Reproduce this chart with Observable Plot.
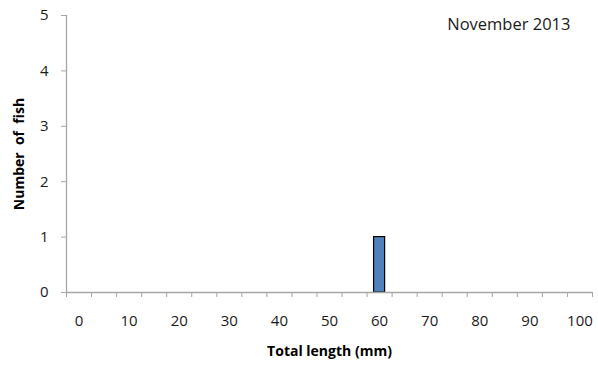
<!DOCTYPE html>
<html>
<head>
<meta charset="utf-8">
<script src="https://cdn.jsdelivr.net/npm/d3@7"></script>
<script src="https://cdn.jsdelivr.net/npm/@observablehq/plot@0.6"></script>
<style>
  body { margin: 0; background: #fff; }
  #chart svg { font-family: "Open Sans", sans-serif; }
</style>
</head>
<body>
<div id="chart"></div>
<script>
// Data
const lengthBins = [0,5,10,15,20,25,30,35,40,45,50,55,60,65,70,75,80,85,90,95,100];
const fishCounts = [0,0,0,0,0,0,0,0,0,0,0,0,1,0,0,0,0,0,0,0,0];
const binWidth = 5;
const xTickLabels = [0,10,20,30,40,50,60,70,80,90,100];
const yTickLabels = [0,1,2,3,4,5];
const titleText = "November 2013";
const xTitle = "Total length (mm)";
const yTitle = "Number  of  fish";

const data = lengthBins.map((l, i) => ({len: l, count: fishCounts[i]}));
const boundaries = lengthBins.map(l => l - binWidth / 2).concat([lengthBins[lengthBins.length - 1] + binWidth / 2]);

const axisGray = "#a6a6a6";

const chart = Plot.plot({
  width: 598,
  height: 369,
  marginLeft: 66,
  marginRight: 6,
  marginTop: 15,
  marginBottom: 77,
  style: {fontFamily: "'Open Sans', sans-serif", fontSize: "15px", color: "#000"},
  x: {type: "linear", domain: [boundaries[0], boundaries[boundaries.length - 1]]},
  y: {domain: [0, 5]},
  marks: [
    Plot.rectY(data.filter(d => d.count > 0), {
      x1: d => d.len - binWidth / 2,
      x2: d => d.len + binWidth / 2,
      y1: 0,
      y2: "count",
      insetLeft: 7,
      insetRight: 7,
      fill: "#4f81bd",
      stroke: "#000",
      strokeWidth: 1.2
    }),
    Plot.ruleY([0], {stroke: axisGray, strokeWidth: 1.3}),
    Plot.ruleX([boundaries[0]], {stroke: axisGray, strokeWidth: 1.3}),
    Plot.axisX({ticks: boundaries, tickFormat: () => "", tickSize: 5, stroke: axisGray, label: null}),
    Plot.axisX({ticks: xTickLabels, tickSize: 0, tickPadding: 23, label: null, fill: "#1a1a1a", fontSize: 15}),
    Plot.axisY({ticks: yTickLabels, tickFormat: "d", tickSize: 5, tickPadding: 13, stroke: axisGray, label: null, fill: "#1a1a1a", fontSize: 15}),
    Plot.text([titleText], {frameAnchor: "top-right", dx: -22, dy: 3, fontSize: 16.5, fill: "#1a1a1a"}),
    Plot.text([xTitle], {frameAnchor: "bottom", dy: 63, fontSize: 14, fontWeight: "bold", fill: "#000"}),
    Plot.text([yTitle], {frameAnchor: "left", textAnchor: "middle", dx: -47, rotate: -90, fontSize: 14, fontWeight: "bold", fill: "#000"})
  ]
});
document.getElementById("chart").appendChild(chart);
</script>
</body>
</html>
